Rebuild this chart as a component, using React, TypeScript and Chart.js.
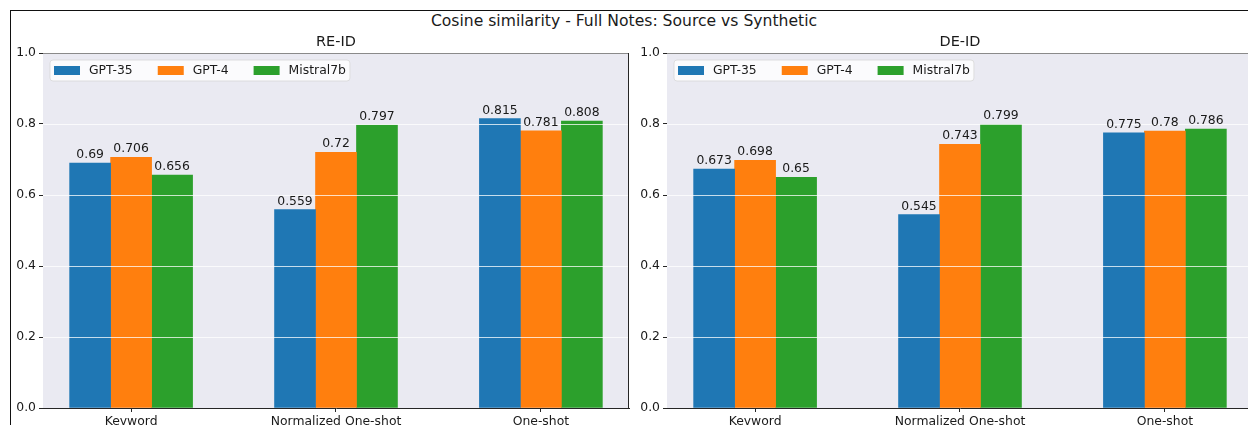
import React, { useEffect, useRef } from "react";
import { Chart, registerables } from "chart.js";

Chart.register(...registerables);

const categories = ["Keyword", "Normalized One-shot", "One-shot"];
const seriesNames = ["GPT-35", "GPT-4", "Mistral7b"];
const seriesColors = ["#1f77b4", "#ff7f0e", "#2ca02c"];
const barOffsets = [-0.2, 0, 0.2];

const reGpt35 = [0.69, 0.559, 0.815];
const reGpt4 = [0.706, 0.72, 0.781];
const reMistral = [0.656, 0.797, 0.808];

const deGpt35 = [0.673, 0.545, 0.775];
const deGpt4 = [0.698, 0.743, 0.78];
const deMistral = [0.65, 0.799, 0.786];

const yTicks = [0, 0.2, 0.4, 0.6, 0.8, 1.0];
const gridValues = [0.2, 0.4, 0.6, 0.8, 1.0];

const FONT = "DejaVu Sans, sans-serif";
const TEXT = "#1a1a1a";
const SPINE = "#262626";
const SMALL = 12.4;

const CW = 640;
const CH = 440;
const AREA_LEFT = 43;
const AREA_TOP = 28;
const AREA_RIGHT = 629;
const AREA_BOTTOM = 383;

function makePanelPlugin(title: string) {
  return {
    id: "panelDeco",
    beforeDatasetsDraw(chart: any) {
      const { ctx, chartArea: a } = chart;
      ctx.save();
      ctx.fillStyle = "#eaeaf2";
      ctx.fillRect(a.left, a.top, a.right - a.left, a.bottom - a.top);
      ctx.restore();
    },
    afterDatasetsDraw(chart: any) {
      const { ctx, chartArea: a } = chart;
      const yScale = chart.scales.y;
      ctx.save();
      // grid lines over bars
      ctx.strokeStyle = "rgba(255,255,255,0.75)";
      ctx.lineWidth = 1;
      for (const g of gridValues) {
        const y = Math.round(yScale.getPixelForValue(g)) + 0.5;
        ctx.beginPath();
        ctx.moveTo(a.left, y);
        ctx.lineTo(a.right, y);
        ctx.stroke();
      }
      // top & right spines
      ctx.strokeStyle = "#8a8a8a";
      ctx.beginPath();
      ctx.moveTo(a.left, a.top + 0.5);
      ctx.lineTo(a.right, a.top + 0.5);
      ctx.stroke();
      ctx.strokeStyle = SPINE;
      ctx.beginPath();
      ctx.moveTo(a.right - 0.5, a.top);
      ctx.lineTo(a.right - 0.5, a.bottom);
      ctx.stroke();

      // bar labels
      ctx.fillStyle = TEXT;
      ctx.font = `${SMALL}px ${FONT}`;
      ctx.textAlign = "center";
      ctx.textBaseline = "bottom";
      chart.data.datasets.forEach((ds: any, di: number) => {
        const meta = chart.getDatasetMeta(di);
        meta.data.forEach((el: any, i: number) => {
          ctx.fillText(String(ds.data[i].y), el.x, el.y - 2);
        });
      });

      // subplot title
      ctx.font = `14.5px ${FONT}`;
      ctx.textBaseline = "bottom";
      ctx.fillText(title, (a.left + a.right) / 2, a.top - 4);

      // legend
      ctx.font = `${SMALL}px ${FONT}`;
      const bx = a.left + 7;
      const by = a.top + 7;
      const bh = 21;
      let x = bx + 4;
      const items: { px: number; tx: number }[] = [];
      seriesNames.forEach((n, i) => {
        const tw = ctx.measureText(n).width;
        items.push({ px: x, tx: x + 35 });
        x += 35 + tw + (i < seriesNames.length - 1 ? 25 : 4);
      });
      const bw = x - bx;
      ctx.beginPath();
      const r = 3;
      ctx.moveTo(bx + r, by);
      ctx.lineTo(bx + bw - r, by);
      ctx.quadraticCurveTo(bx + bw, by, bx + bw, by + r);
      ctx.lineTo(bx + bw, by + bh - r);
      ctx.quadraticCurveTo(bx + bw, by + bh, bx + bw - r, by + bh);
      ctx.lineTo(bx + r, by + bh);
      ctx.quadraticCurveTo(bx, by + bh, bx, by + bh - r);
      ctx.lineTo(bx, by + r);
      ctx.quadraticCurveTo(bx, by, bx + r, by);
      ctx.closePath();
      ctx.fillStyle = "rgba(255,255,255,0.8)";
      ctx.fill();
      ctx.strokeStyle = "rgba(215,215,215,0.8)";
      ctx.stroke();
      const cy = by + bh / 2;
      seriesNames.forEach((n, i) => {
        ctx.fillStyle = seriesColors[i];
        ctx.fillRect(items[i].px, cy - 4.5, 26, 9);
        ctx.fillStyle = TEXT;
        ctx.textAlign = "left";
        ctx.textBaseline = "middle";
        ctx.fillText(n, items[i].tx, cy + 0.5);
      });
      ctx.restore();
    },
  };
}

function Panel({ title, series, left }: { title: string; series: number[][]; left: number }) {
  const ref = useRef<HTMLCanvasElement | null>(null);
  useEffect(() => {
    if (!ref.current) return;
    const chart = new Chart(ref.current, {
      type: "bar",
      data: {
        datasets: series.map((vals, si) => ({
          label: seriesNames[si],
          data: vals.map((v, i) => ({ x: i + barOffsets[si], y: v })),
          backgroundColor: seriesColors[si],
          borderWidth: 0,
          grouped: false,
          categoryPercentage: 1,
          barPercentage: 1,
        })),
      },
      options: {
        responsive: false,
        animation: false,
        devicePixelRatio: 1,
        layout: { padding: { top: AREA_TOP, right: CW - AREA_RIGHT, left: 0, bottom: 0 } },
        plugins: { legend: { display: false }, tooltip: { enabled: false }, title: { display: false } },
        scales: {
          x: {
            type: "linear",
            min: -0.43,
            max: 2.43,
            offset: false,
            afterBuildTicks: (s: any) => {
              s.ticks = categories.map((_, i) => ({ value: i }));
            },
            afterFit: (s: any) => {
              s.height = CH - AREA_BOTTOM;
            },
            ticks: {
              autoSkip: false,
              maxRotation: 0,
              padding: 2,
              color: TEXT,
              font: { family: FONT, size: SMALL },
              callback: (v: any) => categories[Math.round(Number(v))] ?? "",
            },
            grid: { offset: false, drawOnChartArea: false, drawTicks: true, tickLength: 4, tickColor: SPINE },
            border: { display: true, color: SPINE, width: 1 },
          },
          y: {
            type: "linear",
            min: 0,
            max: 1,
            afterBuildTicks: (s: any) => {
              s.ticks = yTicks.map((v) => ({ value: v }));
            },
            afterFit: (s: any) => {
              s.width = AREA_LEFT;
            },
            ticks: {
              padding: 3,
              color: TEXT,
              font: { family: FONT, size: SMALL },
              callback: (v: any) => Number(v).toFixed(1),
            },
            grid: { offset: false, drawOnChartArea: false, drawTicks: true, tickLength: 4, tickColor: SPINE },
            border: { display: true, color: SPINE, width: 1 },
          },
        },
      } as any,
      plugins: [makePanelPlugin(title)],
    });
    return () => chart.destroy();
  }, []);
  return (
    <div style={{ position: "absolute", left, top: 25, width: CW, height: CH }}>
      <canvas ref={ref} width={CW} height={CH} style={{ width: CW, height: CH, display: "block" }} />
    </div>
  );
}

export default function App() {
  return (
    <div
      style={{
        position: "fixed",
        left: 0,
        top: 0,
        width: 1248,
        height: 425,
        overflow: "hidden",
        background: "#ffffff",
        fontFamily: FONT,
      }}
    >
      <div
        style={{
          position: "absolute",
          left: 10,
          top: 10,
          width: 1400,
          height: 600,
          borderTop: "1px solid #111",
          borderLeft: "1px solid #111",
        }}
      />
      <div
        style={{
          position: "absolute",
          left: 0,
          width: 1248,
          top: 12,
          textAlign: "center",
          fontSize: 15.6,
          lineHeight: "18px",
          color: TEXT,
        }}
      >
        Cosine similarity - Full Notes: Source vs Synthetic
      </div>
      <Panel title="RE-ID" series={[reGpt35, reGpt4, reMistral]} left={0} />
      <Panel title="DE-ID" series={[deGpt35, deGpt4, deMistral]} left={624} />
    </div>
  );
}
